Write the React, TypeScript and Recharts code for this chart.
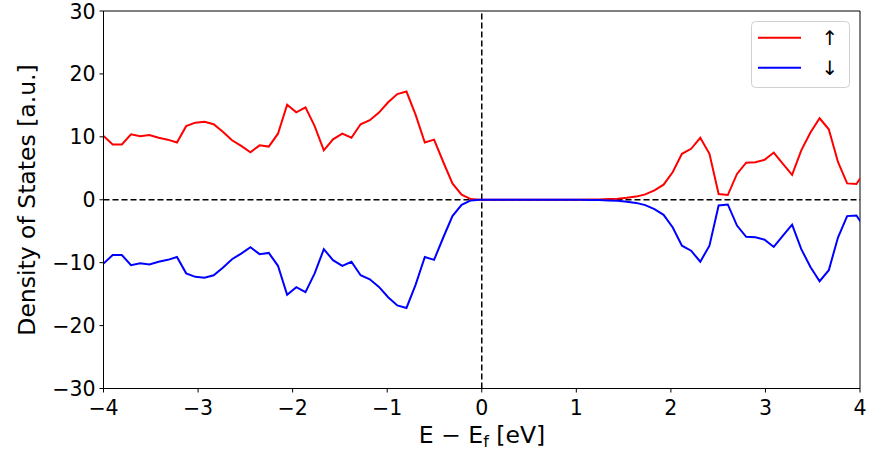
import React from "react";
import {
  LineChart,
  Line,
  XAxis,
  YAxis,
  ReferenceLine,
  Legend,
  Label,
} from "recharts";

const energies = [
  -4.0, -3.903, -3.806, -3.709, -3.612, -3.515, -3.417, -3.32, -3.223, -3.126,
  -3.029, -2.932, -2.835, -2.738, -2.641, -2.544, -2.446, -2.349, -2.252, -2.155,
  -2.058, -1.961, -1.864, -1.767, -1.67, -1.573, -1.475, -1.378, -1.281, -1.184,
  -1.087, -0.99, -0.893, -0.796, -0.699, -0.602, -0.504, -0.407, -0.31, -0.213,
  -0.116, -0.019, 0.078, 0.175, 0.272, 0.369, 0.467, 0.564, 0.661, 0.758,
  0.855, 0.952, 1.049, 1.146, 1.243, 1.34, 1.438, 1.535, 1.632, 1.729,
  1.826, 1.923, 2.02, 2.117, 2.214, 2.311, 2.408, 2.505, 2.602, 2.699,
  2.796, 2.893, 2.991, 3.088, 3.185, 3.282, 3.379, 3.476, 3.573, 3.67,
  3.767, 3.864, 3.962, 4.059,
];

const spinUp = [
  10.15, 8.8, 8.8, 10.4, 10.1, 10.3, 9.85, 9.55, 9.1, 11.7,
  12.25, 12.4, 12.0, 10.8, 9.45, 8.55, 7.55, 8.65, 8.45, 10.5,
  15.1, 13.9, 14.7, 11.7, 7.85, 9.6, 10.5, 9.85, 12.0, 12.65,
  13.85, 15.5, 16.8, 17.2, 13.5, 9.1, 9.55, 6.0, 2.6, 0.8,
  0.1, 0, 0, 0, 0, 0, 0, 0, 0, 0,
  0, 0, 0, 0.02, 0.05, 0.1, 0.15, 0.3, 0.5, 0.85,
  1.5, 2.4, 4.4, 7.3, 8.1, 9.85, 7.3, 0.9, 0.75, 4.1,
  5.9, 5.95, 6.35, 7.5, 5.7, 3.95, 7.85, 10.7, 12.95, 11.2,
  6.0, 2.6, 2.5, 4.6,
];

const spinDown = [
  -10.15, -8.8, -8.8, -10.4, -10.1, -10.3, -9.85, -9.55, -9.1, -11.7,
  -12.25, -12.4, -12.0, -10.8, -9.45, -8.55, -7.55, -8.65, -8.45, -10.5,
  -15.1, -13.9, -14.7, -11.7, -7.85, -9.6, -10.5, -9.85, -12.0, -12.65,
  -13.85, -15.5, -16.8, -17.2, -13.5, -9.1, -9.55, -6.0, -2.6, -0.8,
  -0.1, 0, 0, 0, 0, 0, 0, 0, 0, 0,
  0, 0, 0, -0.02, -0.05, -0.1, -0.15, -0.3, -0.5, -0.85,
  -1.5, -2.4, -4.4, -7.3, -8.1, -9.85, -7.3, -0.9, -0.75, -4.1,
  -5.9, -5.95, -6.35, -7.5, -5.7, -3.95, -7.85, -10.7, -12.95, -11.2,
  -6.0, -2.6, -2.5, -4.6,
];

const xTicks = [-4, -3, -2, -1, 0, 1, 2, 3, 4];
const yTicks = [-30, -20, -10, 0, 10, 20, 30];

const data = energies.map((e, i) => ({ e, up: spinUp[i], down: spinDown[i] }));

const FONT = "DejaVu Sans";
const fmt = (v: number) => (v < 0 ? "\u2212" + Math.abs(v) : String(v));

const renderLegend = (props: any) => {
  const payload = props.payload || [];
  return (
    <svg width={100} height={68}>
      <rect
        x={0.5}
        y={0.5}
        width={98}
        height={66}
        rx={4}
        fill="#fff"
        fillOpacity={0.8}
        stroke="#d0d0d0"
      />
      {payload.map((p: any, i: number) => (
        <g key={p.value}>
          <line x1={7} x2={50} y1={16.7 + i * 30} y2={16.7 + i * 30} stroke={p.color} strokeWidth={2} />
          <text
            x={79}
            y={16.7 + i * 30}
            textAnchor="middle"
            dominantBaseline="central"
            fontSize={20}
            fontFamily={FONT}
            fill="#000"
          >
            {p.value}
          </text>
        </g>
      ))}
    </svg>
  );
};

export default function App() {
  return (
    <div style={{ position: "absolute", left: 0, top: 0, background: "#fff" }}>
      <LineChart
        width={870}
        height={457}
        data={data}
        margin={{ top: 11, right: 10, bottom: 0, left: 0 }}
      >
        <XAxis
          dataKey="e"
          type="number"
          domain={[-4, 4]}
          ticks={xTicks}
          allowDataOverflow
          tickFormatter={fmt}
          height={68.5}
          stroke="#000"
          tickSize={4}
          tickMargin={8}
          tick={{ fill: "#000", fontSize: 20.5, fontFamily: FONT }}
        >
          <Label
            content={() => (
              <text x={482} y={442.5} textAnchor="middle" fontSize={23.5} fontFamily={FONT} fill="#000">
                E {"\u2212"} E
                <tspan fontSize={16} dy={4}>f</tspan>
                <tspan dy={-4}> [eV]</tspan>
              </text>
            )}
          />
        </XAxis>
        <YAxis
          type="number"
          domain={[-30, 30]}
          ticks={yTicks}
          allowDataOverflow
          tickFormatter={fmt}
          width={103.5}
          stroke="#000"
          tickSize={4}
          tickMargin={4}
          tick={{ fill: "#000", fontSize: 20.5, fontFamily: FONT }}
        >
          <Label
            content={() => (
              <text
                transform="rotate(-90)"
                x={-200}
                y={35}
                textAnchor="middle"
                fontSize={23.5}
                fontFamily={FONT}
                fill="#000"
              >
                Density of States [a.u.]
              </text>
            )}
          />
        </YAxis>
        <ReferenceLine y={30} stroke="#000" strokeWidth={1} />
        <ReferenceLine x={4} stroke="#000" strokeWidth={1} />
        <ReferenceLine y={0} stroke="#000" strokeWidth={1.5} strokeDasharray="6 3" />
        <ReferenceLine x={0} stroke="#000" strokeWidth={1.5} strokeDasharray="6 3" />
        <Line
          type="linear"
          dataKey="up"
          name={"\u2191"}
          stroke="#ff0000"
          strokeWidth={2}
          dot={false}
          isAnimationActive={false}
        />
        <Line
          type="linear"
          dataKey="down"
          name={"\u2193"}
          stroke="#0000ff"
          strokeWidth={2}
          dot={false}
          isAnimationActive={false}
        />
        <Legend
          layout="horizontal"
          verticalAlign="middle"
          align="center"
          content={renderLegend}
          wrapperStyle={{ left: 751, top: 21, width: 100, height: 68 }}
        />
      </LineChart>
    </div>
  );
}
